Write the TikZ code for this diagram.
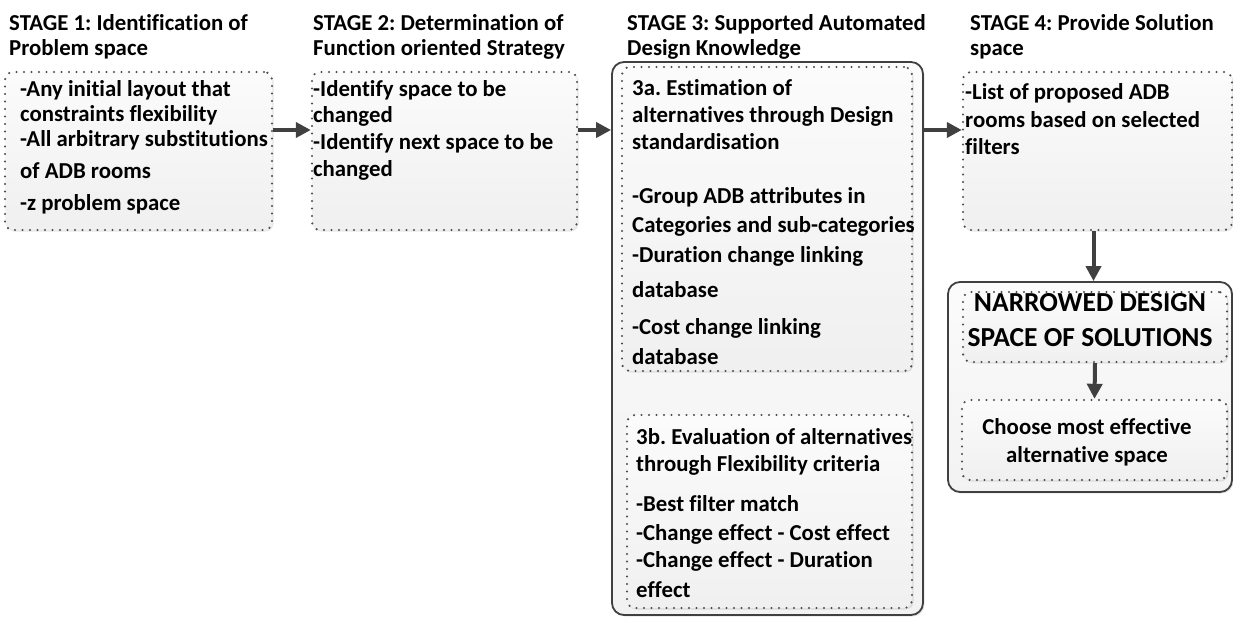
\documentclass[tikz,border=0pt]{standalone}
\usepackage{fontspec}
\setmainfont{Carlito}[Ligatures=NoCommon]
\frenchspacing
\usepackage{tikz}
\usetikzlibrary{positioning}
\usetikzlibrary{fit,arrows.meta,shadows}

\begin{document}
\begin{tikzpicture}[x=1pt,y=-1pt,
  every node/.style = {inner sep=0pt, text=black,
    font=\bfseries\fontsize{22.8}{25}\selectfont},
  dotbox/.style = {draw=black!70, line width=2.4pt, line cap=round,
    dash pattern=on 0pt off 7.5pt, rounded corners=8pt,
    top color=gray!3, bottom color=gray!12,
    drop shadow={opacity=0.18, shadow xshift=1.5pt, shadow yshift=-1.5pt}},
  framebox/.style = {draw=black!75, line width=1.8pt, rounded corners=12pt,
    top color=gray!3, bottom color=gray!10,
    drop shadow={opacity=0.2, shadow xshift=1.5pt, shadow yshift=-1.5pt}},
  txt/.style = {anchor=north west, align=left, execute at begin node=\strut},
  flow/.style = {draw=black!75, line width=4pt,
    -{Triangle[length=15pt,width=15pt]}}
  ]
  \path[use as bounding box] (0,0) rectangle (1233,618);

  % stage titles
  \node[txt] (s1) at (9,14.5)   {STAGE 1: Identification of\\Problem space};
  \node[txt] (s2) at (313,14.5) {STAGE 2: Determination of\\Function oriented Strategy};
  \node[txt] (s3) at (627,14.5) {STAGE 3: Supported Automated\\Design Knowledge};
  \node[txt] (s4) at (970,14.5) {STAGE 4: Provide Solution\\space};

  % outer frames
  \node[framebox, fit={(612,62) (923,615)}] (know) {};
  \node[framebox, fit={(948,282) (1232,492)}] (res) {};

  % dotted boxes
  \node[dotbox, fit={(5,72) (272,230)}] (prob) {};
  \node[dotbox, fit={(312,72) (577,230)}] (func) {};
  \node[dotbox, fit={(622,67) (912,371)}] (estim) {};
  \node[dotbox, fit={(627,415) (912,608)}] (evalu) {};
  \node[dotbox, fit={(963,72) (1232,230)}] (sol) {};
  \node[dotbox, fit={(963,292) (1227,362)}] (narrow) {};
  \node[dotbox, fit={(962,400) (1227,480)}] (choose) {};

  % box texts
  \node[txt] (t1) at (20,80.5) {-Any initial layout that\\
    constraints flexibility\\
    -All arbitrary substitutions\\[7pt]
    of ADB rooms\\[7pt]
    -z problem space};
  \node[txt] (t2) at (313,80.5) {-Identify space to be\\[1pt]
    changed\\[2pt]
    -Identify next space to be\\[2pt]
    changed};
  \node[txt] (t3a) at (632,79.5) {3a. Estimation of\\[2pt]
    alternatives through Design\\[2pt]
    standardisation\\[29pt]
    -Group ADB attributes in\\[4pt]
    Categories and sub-categories\\[5pt]
    -Duration change linking\\[10pt]
    database\\[12pt]
    -Cost change linking\\[5pt]
    database};
  \node[txt] (t3b) at (636,428.5) {3b. Evaluation of alternatives\\[2pt]
    through Flexibility criteria\\[15pt]
    -Best filter match\\[4pt]
    -Change effect - Cost effect\\[2pt]
    -Change effect - Duration\\[5pt]
    effect};
  \node[txt] (t4) at (965,83.5) {-List of proposed ADB\\[3pt]
    rooms based on selected\\[2pt]
    filters};
  \node[anchor=north, align=center, execute at begin node=\strut,
    font=\bfseries\fontsize{27.5}{35}\selectfont] (t5) at (1090,293)
    {NARROWED DESIGN\\SPACE OF SOLUTIONS};
  \node[anchor=north, align=center, execute at begin node=\strut,
    font=\bfseries\fontsize{22.8}{28}\selectfont] (t6) at (1087,418)
    {Choose most effective\\alternative space};

  % arrows
  \coordinate (a2) at ([yshift=21pt]prob.east);
  \coordinate (a4) at ([xshift=-4pt]sol.south);
  \draw[flow] (a2) -- (a2 -| func.west);
  \draw[flow] (a2 -| func.east) -- (a2 -| know.west);
  \draw[flow] (a2 -| know.east) -- (a2 -| sol.west);
  \draw[flow] (a4) -- (a4 |- res.north);
  \draw[flow] (narrow.south) -- (choose.north);
\end{tikzpicture}
\end{document}
